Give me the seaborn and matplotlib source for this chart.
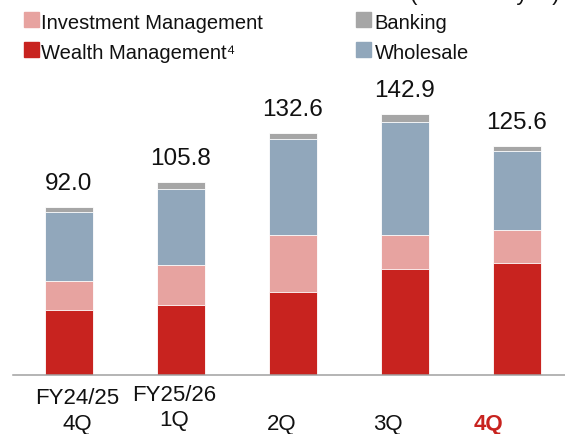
import matplotlib
matplotlib.use('Agg')
import matplotlib.pyplot as plt
from matplotlib.patches import Rectangle
import seaborn as sns
import pandas as pd

# ── data (billions of yen) ────────────────────────────────────────────────────
QUARTERS  = ["FY24/25 4Q", "FY25/26 1Q", "2Q", "3Q", "4Q"]
WEALTH    = [35.6, 38.3, 45.3, 58.0, 60.9]
INVEST    = [15.6, 21.6, 31.2, 18.3, 18.5]
WHOLESALE = [37.8, 42.0, 52.9, 62.4, 43.2]
BANKING   = [3.0, 3.9, 3.2, 4.2, 3.0]
TOTALS    = [92.0, 105.8, 132.6, 142.9, 125.6]

TICK_TOP    = ["FY24/25", "FY25/26", "", "", ""]
TICK_BOTTOM = ["4Q", "1Q", "2Q", "3Q", "4Q"]

RED   = "#C8231F"
PINK  = "#E7A3A0"
BLUE  = "#91A7BB"
GREY  = "#A6A6A6"

df = pd.DataFrame({"quarter": QUARTERS})
df["lv1"] = WEALTH
df["lv2"] = df["lv1"] + INVEST
df["lv3"] = df["lv2"] + WHOLESALE
df["lv4"] = df["lv3"] + BANKING

sns.set_theme(style="white")
plt.rcParams['font.family'] = ['Liberation Sans', 'DejaVu Sans']

W, H = 565, 434
fig = plt.figure(figsize=(W / 100, H / 100), dpi=100)
ax = fig.add_axes([13 / W, (H - 374.5) / H, 1 - 13 / W, 315 / H])

# stacked bars: draw cumulative totals from the top segment down
for col, color in [("lv4", GREY), ("lv3", BLUE), ("lv2", PINK), ("lv1", RED)]:
    sns.barplot(data=df, x="quarter", y=col, color=color, saturation=1,
                width=0.43, edgecolor="white", linewidth=0.6, ax=ax)

ax.set_xlim(-0.5, 4.43)
ax.set_ylim(0, 172.8)
ax.set_xticks([]); ax.set_yticks([])
ax.set_xlabel(""); ax.set_ylabel("")
sns.despine(ax=ax, left=True)
ax.spines["bottom"].set_color("#A0A0A0")
ax.spines["bottom"].set_linewidth(1.1)

# totals above bars
for i, t in enumerate(TOTALS):
    ax.annotate(f"{t:.1f}", (i, t), xytext=(0, 12), textcoords="offset points",
                ha="center", va="baseline", fontsize=17.5, color="#111111")

# category labels (slightly offset like the source slide)
offsets = [0.07, -0.06, -0.10, -0.15, -0.25]
tr = ax.get_xaxis_transform()
for i, (top, bot) in enumerate(zip(TICK_TOP, TICK_BOTTOM)):
    x = i + offsets[i]
    if top:
        yb = 404 if i == 0 else 401
        ax.text(x, -(yb - 374.5) / 315, top, transform=tr, ha="center",
                va="baseline", fontsize=16, color="#111111")
    yb2 = 426 if i == 1 else 430
    last = i == len(TICK_BOTTOM) - 1
    ax.text(x, -(yb2 - 374.5) / 315, bot, transform=tr, ha="center",
            va="baseline", fontsize=16,
            color=RED if last else "#111111",
            fontweight="bold" if last else "normal")

# legend (manual, two columns)
legend_items = [
    ("Investment Management", PINK, 24, 12.3, 41, 29.3),
    ("Wealth Management\u2074", RED, 24, 41.7, 41, 59),
    ("Banking", GREY, 356, 12.3, 374.5, 29.3),
    ("Wholesale", BLUE, 356, 41.7, 374.5, 59),
]
for label, color, hx, hy, tx, ty in legend_items:
    fig.add_artist(Rectangle((hx / W, 1 - (hy + 15) / H), 15 / W, 15 / H,
                             transform=fig.transFigure, color=color))
    fig.text(tx / W, 1 - ty / H, label, ha="left", va="baseline",
             fontsize=14.5, color="#111111")

fig.text(560 / W, 1.0, "(billions of yen)", ha="right", va="baseline",
         fontsize=16, color="#111111")

fig.savefig("out.png", dpi=100)
